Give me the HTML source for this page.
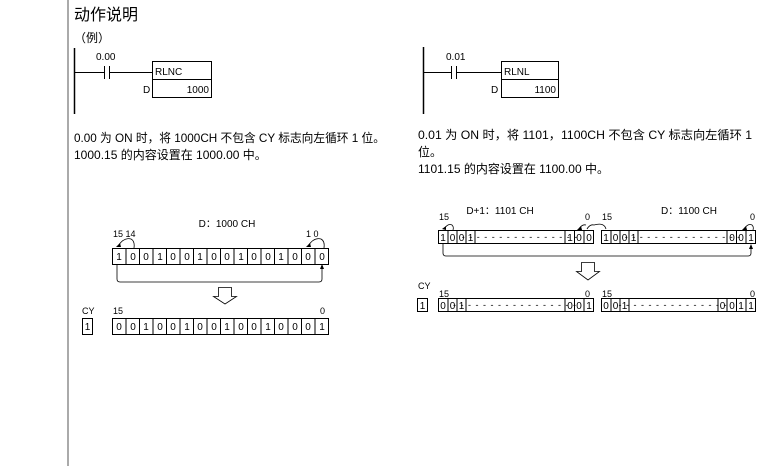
<!DOCTYPE html>
<html><head><meta charset="utf-8"><style>
html,body{margin:0;padding:0;background:#fff;}
svg{display:block;}
text{font-family:"Liberation Sans","Noto Sans CJK SC",sans-serif;fill:#000;}
</style></head><body>
<svg width="771" height="466" viewBox="0 0 771 466" xmlns="http://www.w3.org/2000/svg">
<line x1="68" y1="0" x2="68" y2="466" stroke="#555" stroke-width="1"/>
<text x="74" y="20" font-size="16">动作说明</text>
<text x="74" y="42" font-size="12">（例）</text>

<!-- left ladder -->
<g stroke="#000" fill="none" stroke-width="1">
<line x1="74.5" y1="48" x2="74.5" y2="114" stroke-width="1.5"/>
<line x1="74" y1="72.5" x2="104" y2="72.5"/>
<line x1="104.5" y1="66" x2="104.5" y2="79"/>
<line x1="109.5" y1="66" x2="109.5" y2="79"/>
<line x1="110" y1="72.5" x2="152" y2="72.5"/>
<rect x="152.5" y="61.5" width="59" height="36"/>
<line x1="152" y1="79.5" x2="212" y2="79.5"/>
</g>
<text x="96" y="60" font-size="10">0.00</text>
<text x="155" y="75" font-size="10">RLNC</text>
<text x="143" y="93" font-size="10">D</text>
<text x="209" y="93" font-size="10" text-anchor="end">1000</text>
<text x="74" y="142" font-size="12" textLength="311" lengthAdjust="spacingAndGlyphs">0.00 为 ON 时，将 1000CH 不包含 CY 标志向左循环 1 位。</text>
<text x="74" y="159" font-size="12">1000.15 的内容设置在 1000.00 中。</text>

<!-- right ladder -->
<g stroke="#000" fill="none" stroke-width="1">
<line x1="423.5" y1="47" x2="423.5" y2="114" stroke-width="1.5"/>
<line x1="423" y1="72.5" x2="451" y2="72.5"/>
<line x1="451.5" y1="66" x2="451.5" y2="79"/>
<line x1="456.5" y1="66" x2="456.5" y2="79"/>
<line x1="457" y1="72.5" x2="501" y2="72.5"/>
<rect x="501.5" y="61.5" width="57" height="36"/>
<line x1="501" y1="79.5" x2="559" y2="79.5"/>
</g>
<text x="446" y="60" font-size="10">0.01</text>
<text x="504" y="75" font-size="10">RLNL</text>
<text x="491" y="93" font-size="10">D</text>
<text x="556" y="93" font-size="10" text-anchor="end">1100</text>
<text x="418" y="139" font-size="12" textLength="334" lengthAdjust="spacingAndGlyphs">0.01 为 ON 时，将 1101，1100CH 不包含 CY 标志向左循环 1</text>
<text x="418" y="156" font-size="12">位。</text>
<text x="418" y="173" font-size="12">1101.15 的内容设置在 1100.00 中。</text>

<!-- left bits -->
<text x="227" y="227" font-size="10" text-anchor="middle">D：1000 CH</text>
<text x="113" y="237" font-size="9">15 14</text>
<text x="306" y="237" font-size="9">1  0</text>
<g stroke="#000" fill="none" stroke-width="0.8">
<path d="M118,246 Q124,237 131,239 Q135,241 134,248"/>
<path d="M308,246 Q314,237 321,239 Q325,241 324,248"/>
<path d="M117,264 L117,279 Q117,282 120,282 L319,282 Q322,282 322,279 L322,268"/>
</g>
<polygon points="116,247 120,243 121,247" fill="#000"/>
<polygon points="306,247 310,243 311,247" fill="#000"/>
<polygon points="320,269 324,269 322,264" fill="#000"/>
<rect x="112.5" y="248.5" width="216" height="16" fill="none" stroke="#000"/>
<g stroke="#000" stroke-width="1">
<line x1="126" y1="248" x2="126" y2="265"/><line x1="139.5" y1="248" x2="139.5" y2="265"/><line x1="153" y1="248" x2="153" y2="265"/><line x1="166.5" y1="248" x2="166.5" y2="265"/><line x1="180" y1="248" x2="180" y2="265"/><line x1="193.5" y1="248" x2="193.5" y2="265"/><line x1="207" y1="248" x2="207" y2="265"/><line x1="220.5" y1="248" x2="220.5" y2="265"/><line x1="234" y1="248" x2="234" y2="265"/><line x1="247.5" y1="248" x2="247.5" y2="265"/><line x1="261" y1="248" x2="261" y2="265"/><line x1="274.5" y1="248" x2="274.5" y2="265"/><line x1="288" y1="248" x2="288" y2="265"/><line x1="301.5" y1="248" x2="301.5" y2="265"/><line x1="315" y1="248" x2="315" y2="265"/>
</g>
<g font-size="10" text-anchor="middle">
<text x="119" y="260">1</text><text x="133" y="260">0</text><text x="146" y="260">0</text><text x="160" y="260">1</text><text x="173" y="260">0</text><text x="187" y="260">0</text><text x="200" y="260">1</text><text x="214" y="260">0</text><text x="227" y="260">0</text><text x="241" y="260">1</text><text x="254" y="260">0</text><text x="268" y="260">0</text><text x="281" y="260">1</text><text x="295" y="260">0</text><text x="308" y="260">0</text><text x="322" y="260">0</text>
</g>
<polygon points="218.5,287.5 231.5,287.5 231.5,296.5 236.5,296.5 225,304 213.5,296.5 218.5,296.5" fill="#fff" stroke="#000" stroke-width="0.8"/>
<text x="82" y="314" font-size="9">CY</text>
<text x="113" y="314" font-size="9">15</text>
<text x="320" y="314" font-size="9">0</text>
<rect x="82.5" y="318.5" width="10" height="16" fill="none" stroke="#000"/>
<text x="87.5" y="330" font-size="10" text-anchor="middle">1</text>
<rect x="112.5" y="318.5" width="216" height="16" fill="none" stroke="#000"/>
<g stroke="#000" stroke-width="1">
<line x1="126" y1="318" x2="126" y2="335"/><line x1="139.5" y1="318" x2="139.5" y2="335"/><line x1="153" y1="318" x2="153" y2="335"/><line x1="166.5" y1="318" x2="166.5" y2="335"/><line x1="180" y1="318" x2="180" y2="335"/><line x1="193.5" y1="318" x2="193.5" y2="335"/><line x1="207" y1="318" x2="207" y2="335"/><line x1="220.5" y1="318" x2="220.5" y2="335"/><line x1="234" y1="318" x2="234" y2="335"/><line x1="247.5" y1="318" x2="247.5" y2="335"/><line x1="261" y1="318" x2="261" y2="335"/><line x1="274.5" y1="318" x2="274.5" y2="335"/><line x1="288" y1="318" x2="288" y2="335"/><line x1="301.5" y1="318" x2="301.5" y2="335"/><line x1="315" y1="318" x2="315" y2="335"/>
</g>
<g font-size="10" text-anchor="middle">
<text x="119" y="330">0</text><text x="133" y="330">0</text><text x="146" y="330">1</text><text x="160" y="330">0</text><text x="173" y="330">0</text><text x="187" y="330">1</text><text x="200" y="330">0</text><text x="214" y="330">0</text><text x="227" y="330">1</text><text x="241" y="330">0</text><text x="254" y="330">0</text><text x="268" y="330">1</text><text x="281" y="330">0</text><text x="295" y="330">0</text><text x="308" y="330">0</text><text x="322" y="330">1</text>
</g>

<!-- right bits -->
<text x="500" y="214" font-size="10" text-anchor="middle">D+1：1101 CH</text>
<text x="689" y="214" font-size="10" text-anchor="middle">D：1100 CH</text>
<text x="439" y="220" font-size="9">15</text>
<text x="585" y="220" font-size="9">0</text>
<text x="602" y="220" font-size="9">15</text>
<text x="750" y="220" font-size="9">0</text>
<g stroke="#000" fill="none" stroke-width="0.8">
<path d="M444,229 Q448,223 452,225 Q454,227 453,230"/>
<path d="M579,229 Q582,224 586,225"/>
<path d="M587,229 Q590,224 594,225 Q604,222 606,229"/>
<path d="M744,229 Q748,223 752,225 Q754,227 753,230"/>
<path d="M443,243 L443,253 Q443,256 446,256 L748,256 Q751,256 751,253 L751,248"/>
</g>
<polygon points="442,229 446,226 446,230" fill="#000"/>
<polygon points="577,230 581,226 582,230" fill="#000"/>
<polygon points="742,230 746,226 747,230" fill="#000"/>
<polygon points="749,249 753,249 751,244" fill="#000"/>
<g stroke="#000" fill="none" stroke-width="1">
<rect x="438.5" y="230.5" width="155" height="13"/>
<line x1="448" y1="230" x2="448" y2="244"/><line x1="457" y1="230" x2="457" y2="244"/><line x1="466" y1="230" x2="466" y2="244"/><line x1="475" y1="230" x2="475" y2="244"/>
<line x1="565" y1="230" x2="565" y2="244"/><line x1="574.5" y1="230" x2="574.5" y2="244"/><line x1="584" y1="230" x2="584" y2="244"/>
<rect x="601.5" y="230.5" width="154" height="13"/>
<line x1="611" y1="230" x2="611" y2="244"/><line x1="620" y1="230" x2="620" y2="244"/><line x1="629" y1="230" x2="629" y2="244"/><line x1="638" y1="230" x2="638" y2="244"/>
<line x1="727" y1="230" x2="727" y2="244"/><line x1="736.5" y1="230" x2="736.5" y2="244"/><line x1="746" y1="230" x2="746" y2="244"/>
</g>
<g font-size="10" text-anchor="middle">
<text x="443" y="241">1</text><text x="452.5" y="241">0</text><text x="461.5" y="241">0</text><text x="470.5" y="241">1</text>
<text x="570" y="241">1</text><text x="579" y="241">0</text><text x="589" y="241">0</text>
<text x="606" y="241">1</text><text x="615.5" y="241">0</text><text x="624.5" y="241">0</text><text x="633.5" y="241">1</text>
<text x="732" y="241">0</text><text x="741" y="241">0</text><text x="751" y="241">1</text>
</g>
<text x="520" y="240" font-size="9" text-anchor="middle" letter-spacing="1">- - - - - - - - - - - - - - - -</text>
<text x="683" y="240" font-size="9" text-anchor="middle" letter-spacing="1">- - - - - - - - - - - - - - - -</text>
<polygon points="581.5,262.5 594.5,262.5 594.5,271.5 599.5,271.5 588,280 576.5,271.5 581.5,271.5" fill="#fff" stroke="#000" stroke-width="0.8"/>
<text x="418" y="289" font-size="9">CY</text>
<text x="439" y="297" font-size="9">15</text>
<text x="585" y="297" font-size="9">0</text>
<text x="602" y="297" font-size="9">15</text>
<text x="750" y="297" font-size="9">0</text>
<rect x="417.5" y="298.5" width="10" height="13" fill="none" stroke="#000"/>
<text x="422.5" y="309" font-size="10" text-anchor="middle">1</text>
<g stroke="#000" fill="none" stroke-width="1">
<rect x="438.5" y="298.5" width="155" height="13"/>
<line x1="448" y1="298" x2="448" y2="312"/><line x1="457" y1="298" x2="457" y2="312"/><line x1="466" y1="298" x2="466" y2="312"/>
<line x1="565" y1="298" x2="565" y2="312"/><line x1="574.5" y1="298" x2="574.5" y2="312"/><line x1="584" y1="298" x2="584" y2="312"/>
<rect x="601.5" y="298.5" width="154" height="13"/>
<line x1="611" y1="298" x2="611" y2="312"/><line x1="620" y1="298" x2="620" y2="312"/><line x1="629" y1="298" x2="629" y2="312"/>
<line x1="718" y1="298" x2="718" y2="312"/><line x1="727" y1="298" x2="727" y2="312"/><line x1="736.5" y1="298" x2="736.5" y2="312"/><line x1="746" y1="298" x2="746" y2="312"/>
</g>
<g font-size="10" text-anchor="middle">
<text x="443" y="309">0</text><text x="452.5" y="309">0</text><text x="461.5" y="309">1</text>
<text x="570" y="309">0</text><text x="579" y="309">0</text><text x="589" y="309">1</text>
<text x="606" y="309">0</text><text x="615.5" y="309">0</text><text x="624.5" y="309">1</text>
<text x="722.5" y="309">0</text><text x="732" y="309">0</text><text x="741" y="309">1</text><text x="751" y="309">1</text>
</g>
<text x="515" y="308" font-size="9" text-anchor="middle" letter-spacing="1">- - - - - - - - - - - - - - - - -</text>
<text x="673" y="308" font-size="9" text-anchor="middle" letter-spacing="1">- - - - - - - - - - - - - - -</text>
</svg>
</body></html>
